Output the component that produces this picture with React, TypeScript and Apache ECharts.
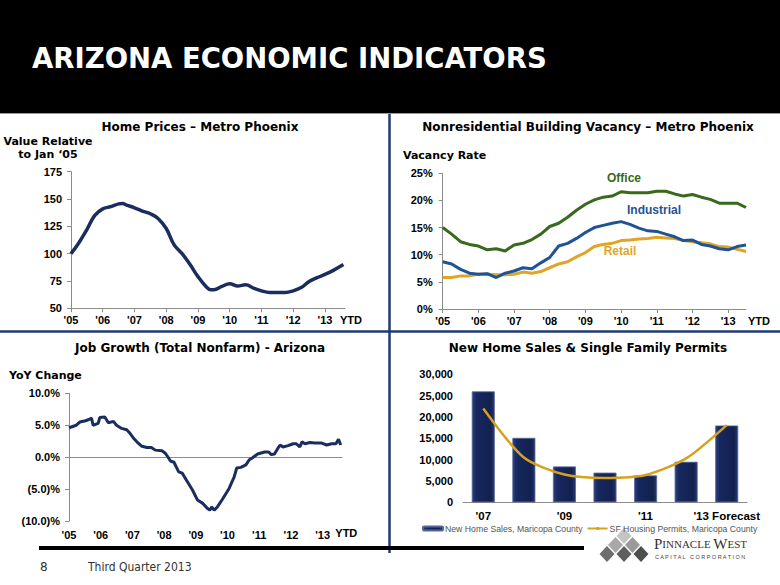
import React, { useEffect, useRef } from "react";
import * as echarts from "echarts";

// ---------- DATA ----------
// Home Prices – Metro Phoenix (index, Jan '05 = 100)
const hpYears = [2005, 2005.25, 2005.5, 2005.75, 2006, 2006.25, 2006.5, 2006.62, 2006.75, 2007, 2007.25, 2007.5, 2007.75, 2008, 2008.25, 2008.5, 2008.75, 2009, 2009.25, 2009.4, 2009.5, 2009.75, 2010, 2010.25, 2010.5, 2010.75, 2011, 2011.25, 2011.5, 2011.75, 2012, 2012.25, 2012.5, 2012.75, 2013, 2013.25, 2013.58];
const hpValues = [100, 110, 122, 135, 141, 143, 145.5, 146, 144.5, 142, 139, 136.5, 132, 123, 108, 100, 90, 79, 70, 67, 67, 70, 72.5, 70.5, 71.5, 68.5, 66, 64.5, 64.5, 64.5, 66, 69, 74.5, 78, 81, 84.5, 90];

// Nonresidential Building Vacancy (%), quarterly
const vacQuarters = [2005, 2005.25, 2005.5, 2005.75, 2006, 2006.25, 2006.5, 2006.75, 2007, 2007.25, 2007.5, 2007.75, 2008, 2008.25, 2008.5, 2008.75, 2009, 2009.25, 2009.5, 2009.75, 2010, 2010.25, 2010.5, 2010.75, 2011, 2011.25, 2011.5, 2011.75, 2012, 2012.25, 2012.5, 2012.75, 2013, 2013.25, 2013.5];
const officeVac = [15.0, 13.8, 12.4, 11.9, 11.6, 10.9, 11.1, 10.7, 11.8, 12.1, 12.8, 13.8, 15.2, 15.8, 16.9, 18.2, 19.3, 20.1, 20.6, 20.8, 21.6, 21.4, 21.4, 21.4, 21.7, 21.7, 21.2, 20.8, 21.1, 20.6, 20.2, 19.5, 19.5, 19.5, 18.7];
const industrialVac = [8.7, 8.3, 7.3, 6.6, 6.4, 6.5, 5.8, 6.6, 7.0, 7.6, 7.4, 8.5, 9.5, 11.6, 12.1, 13.0, 14.1, 15.0, 15.4, 15.8, 16.1, 15.6, 14.9, 14.4, 14.3, 13.8, 13.3, 12.6, 12.7, 11.9, 11.6, 11.1, 10.9, 11.5, 11.8];
const retailVac = [5.8, 5.8, 6.1, 6.1, 6.4, 6.4, 6.3, 6.3, 6.4, 6.8, 6.6, 6.9, 7.6, 8.3, 8.7, 9.6, 10.4, 11.5, 11.9, 12.1, 12.6, 12.7, 12.9, 13.0, 13.2, 13.1, 13.0, 12.6, 12.4, 12.2, 12.0, 11.5, 11.4, 11.0, 10.6];

// Job Growth (Total Nonfarm) - Arizona, YoY %
const jobYears = [2005, 2005.23, 2005.34, 2005.52, 2005.63, 2005.71, 2005.76, 2005.92, 2005.97, 2006.13, 2006.24, 2006.4, 2006.5, 2006.66, 2006.82, 2006.93, 2007.03, 2007.14, 2007.3, 2007.46, 2007.6, 2007.72, 2007.93, 2008.04, 2008.11, 2008.2, 2008.31, 2008.46, 2008.57, 2008.73, 2008.89, 2009.05, 2009.21, 2009.36, 2009.44, 2009.5, 2009.58, 2009.68, 2009.84, 2010.05, 2010.21, 2010.29, 2010.42, 2010.58, 2010.69, 2010.79, 2010.95, 2011.17, 2011.3, 2011.38, 2011.48, 2011.59, 2011.66, 2011.75, 2011.91, 2012.07, 2012.17, 2012.28, 2012.35, 2012.44, 2012.6, 2012.75, 2012.97, 2013.13, 2013.28, 2013.42, 2013.5, 2013.57];
const jobValues = [4.6, 5.0, 5.5, 5.7, 5.9, 6.1, 5.0, 5.3, 6.2, 6.3, 5.4, 5.6, 5.0, 4.5, 4.3, 3.7, 3.0, 2.4, 1.7, 1.5, 1.5, 1.1, 1.0, 0.6, 0.1, -0.6, -0.8, -2.3, -2.5, -3.8, -5.1, -6.7, -7.2, -8.0, -8.3, -7.8, -8.3, -7.8, -6.6, -4.9, -3.1, -1.7, -1.6, -1.2, -0.4, -0.1, 0.5, 0.8, 0.8, 0.4, 0.5, 1.4, 1.9, 1.6, 1.8, 2.1, 2.1, 1.6, 2.4, 2.1, 2.3, 2.2, 2.2, 1.9, 2.1, 2.1, 2.8, 1.9];

// New Home Sales & Single Family Permits (Maricopa County)
const salesCategories = ["'07", "'08", "'09", "'10", "'11", "'12", "'13 Forecast"];
const newHomeSales = [26000, 15100, 8400, 6950, 6300, 9500, 18000];
const sfPermits = [22000, 10500, 6500, 5700, 6400, 10300, 18100];

const SALES_NAME = "New Home Sales, Maricopa County";
const PERMITS_NAME = "SF Housing Permits, Maricopa County";

// ---------- HELPERS ----------
const yearFmt = (v: number) => (Number.isInteger(v) ? "'" + String(v).slice(2) : "");
const pctFmt = (v: number) => (v < 0 ? "(" + Math.abs(v).toFixed(1) + ")%" : v.toFixed(1) + "%");
const pairs = (xs: number[], ys: number[]) => xs.map((x, i) => [x, ys[i]]);

const AX = "#8c8c8c";
const labelStyle = { color: "#000", fontWeight: "bold" as const, fontSize: 11, fontFamily: "Liberation Sans" };
const ytdName = (gap: number) => ({
  name: "YTD",
  nameLocation: "end" as const,
  nameGap: gap,
  nameTextStyle: { ...labelStyle, align: "left", verticalAlign: "top", padding: [6, 0, 0, 0] },
});

const titleFont = 'bold 12px "DejaVu Sans"';
const axTitleFont = 'bold 11px "DejaVu Sans"';

function diamond(cx: number, cy: number, w: number, h: number, fill: string) {
  return {
    type: "polygon",
    shape: { points: [[cx, cy - h], [cx + w, cy], [cx, cy + h], [cx - w, cy]] },
    style: { fill },
    silent: true,
  };
}

export default function App() {
  const ref = useRef<HTMLDivElement>(null);

  useEffect(() => {
    document.body.style.margin = "0";
    if (!ref.current) return;
    const chart = echarts.init(ref.current, null, { renderer: "svg" });

    const lineX = (max: number, extra: any = {}) => ({
      type: "value",
      min: 2005,
      max,
      interval: 1,
      axisLine: { show: true, onZero: false, lineStyle: { color: AX, width: 1 } },
      axisTick: { show: true, length: 4, lineStyle: { color: AX } },
      axisLabel: { ...labelStyle, formatter: yearFmt, margin: 6, showMaxLabel: false },
      splitLine: { show: false },
      ...extra,
    });
    const yBase = {
      type: "value",
      axisLine: { show: true, lineStyle: { color: AX, width: 1 } },
      axisTick: { show: true, length: 4, lineStyle: { color: AX } },
      splitLine: { show: false },
    };

    const option: any = {
      animation: false,
      backgroundColor: "#ffffff",
      textStyle: { fontFamily: "Liberation Sans" },
      grid: [
        { left: 71, top: 171.7, width: 274, height: 136.6 },
        { left: 442.7, top: 173.3, width: 303.3, height: 135.7 },
        { left: 69, top: 393.3, width: 273.3, height: 127.7 },
        { left: 463, top: 374.3, width: 284, height: 128 },
      ],
      xAxis: [
        lineX(2013.63, { gridIndex: 0, ...ytdName(-5) }),
        lineX(2013.5, { gridIndex: 1, ...ytdName(2) }),
        lineX(2013.62, {
          gridIndex: 2,
          axisLine: { show: false, onZero: false },
          axisTick: { show: false },
          axisLabel: { ...labelStyle, formatter: yearFmt, margin: 8 },
          ...ytdName(-7),
        }),
        {
          type: "category",
          gridIndex: 3,
          data: salesCategories,
          axisLine: { show: true, lineStyle: { color: AX, width: 1 } },
          axisTick: { show: false },
          axisLabel: { ...labelStyle, fontSize: 11.5, interval: 1, margin: 8 },
        },
      ],
      yAxis: [
        { ...yBase, gridIndex: 0, min: 50, max: 175, interval: 25, axisLabel: { ...labelStyle, margin: 9 } },
        { ...yBase, gridIndex: 1, min: 0, max: 25, interval: 5, axisLabel: { ...labelStyle, margin: 10, formatter: (v: number) => v + "%" } },
        { ...yBase, gridIndex: 2, min: -10, max: 10, interval: 5, axisLabel: { ...labelStyle, margin: 9, formatter: pctFmt } },
        {
          type: "value",
          gridIndex: 3,
          min: 0,
          max: 30000,
          interval: 5000,
          axisLine: { show: false },
          axisTick: { show: false },
          splitLine: { show: false },
          axisLabel: { ...labelStyle, margin: 10, formatter: (v: number) => v.toLocaleString("en-US") },
        },
      ],
      legend: {
        data: [SALES_NAME, PERMITS_NAME],
        orient: "horizontal",
        left: 422,
        top: 524,
        width: 358,
        itemWidth: 20,
        itemHeight: 4,
        itemGap: 4,
        padding: 0,
        textStyle: { fontSize: 8.7, color: "#555", fontFamily: "Liberation Sans", padding: [0, 0, 0, -3] },
      },
      series: [
        {
          name: "Home Prices",
          type: "line",
          xAxisIndex: 0,
          yAxisIndex: 0,
          data: pairs(hpYears, hpValues),
          smooth: 0.4,
          symbol: "none",
          lineStyle: { color: "#1b2d5e", width: 3.5 },
          itemStyle: { color: "#1b2d5e" },
        },
        {
          name: "Retail",
          type: "line",
          xAxisIndex: 1,
          yAxisIndex: 1,
          data: pairs(vacQuarters, retailVac),
          symbol: "none",
          lineStyle: { color: "#e0a526", width: 3 },
          itemStyle: { color: "#e0a526" },
        },
        {
          name: "Industrial",
          type: "line",
          xAxisIndex: 1,
          yAxisIndex: 1,
          data: pairs(vacQuarters, industrialVac),
          symbol: "none",
          lineStyle: { color: "#1f5394", width: 3 },
          itemStyle: { color: "#1f5394" },
        },
        {
          name: "Office",
          type: "line",
          xAxisIndex: 1,
          yAxisIndex: 1,
          data: pairs(vacQuarters, officeVac),
          symbol: "none",
          lineStyle: { color: "#38691c", width: 3 },
          itemStyle: { color: "#38691c" },
        },
        {
          name: "Job Growth",
          type: "line",
          xAxisIndex: 2,
          yAxisIndex: 2,
          data: pairs(jobYears, jobValues),
          symbol: "none",
          lineStyle: { color: "#1b2d5e", width: 3 },
          itemStyle: { color: "#1b2d5e" },
          markLine: {
            silent: true,
            symbol: ["none", "none"],
            label: { show: false },
            lineStyle: { color: AX, width: 1, type: "solid" },
            data: [{ yAxis: 0 }],
            z: 1,
          },
        },
        {
          name: SALES_NAME,
          type: "bar",
          xAxisIndex: 3,
          yAxisIndex: 3,
          data: newHomeSales,
          barWidth: 23,
          itemStyle: {
            color: new echarts.graphic.LinearGradient(0, 0, 1, 0, [
              { offset: 0, color: "#2b3f7a" },
              { offset: 0.18, color: "#172860" },
              { offset: 0.82, color: "#13214f" },
              { offset: 1, color: "#25376c" },
            ]),
            borderColor: "#56669a",
            borderWidth: 0.8,
          },
        },
        {
          name: PERMITS_NAME,
          type: "line",
          xAxisIndex: 3,
          yAxisIndex: 3,
          data: sfPermits,
          smooth: 0.25,
          symbol: "none",
          lineStyle: { color: "#d6a11f", width: 2.5 },
          itemStyle: { color: "#d6a11f" },
        },
      ],
      graphic: {
        elements: [
          { type: "rect", shape: { x: 0, y: 0, width: 780, height: 113 }, style: { fill: "#000" }, silent: true },
          { type: "line", shape: { x1: 0, y1: 113.5, x2: 780, y2: 113.5 }, style: { stroke: "#9a9a9a", lineWidth: 1 }, silent: true },
          {
            type: "text",
            x: 32,
            y: 58,
            style: { text: "ARIZONA ECONOMIC INDICATORS", fill: "#fff", font: 'bold 27.5px "DejaVu Sans"', verticalAlign: "middle" },
          },
          // dividers
          { type: "line", shape: { x1: 389.5, y1: 114, x2: 389.5, y2: 553 }, style: { stroke: "#1f3a70", lineWidth: 2.5 }, silent: true },
          { type: "line", shape: { x1: 0, y1: 331.5, x2: 780, y2: 331.5 }, style: { stroke: "#1f3a70", lineWidth: 2.5 }, silent: true },
          { type: "rect", shape: { x: 39, y: 546, width: 545, height: 4 }, style: { fill: "#000" }, silent: true },
          // panel titles
          { type: "text", x: 200, y: 127, style: { text: "Home Prices – Metro Phoenix", fill: "#000", font: titleFont, align: "center", verticalAlign: "middle" } },
          { type: "text", x: 588, y: 127, style: { text: "Nonresidential Building Vacancy – Metro Phoenix", fill: "#000", font: titleFont, align: "center", verticalAlign: "middle" } },
          { type: "text", x: 200, y: 348, style: { text: "Job Growth (Total Nonfarm) - Arizona", fill: "#000", font: titleFont, align: "center", verticalAlign: "middle" } },
          { type: "text", x: 588, y: 348, style: { text: "New Home Sales & Single Family Permits", fill: "#000", font: titleFont, align: "center", verticalAlign: "middle" } },
          // axis titles
          { type: "text", x: 48, y: 148, style: { text: "Value Relative\nto Jan ‘05", fill: "#000", font: axTitleFont, align: "center", verticalAlign: "middle", lineHeight: 13 } },
          { type: "text", x: 403, y: 155, style: { text: "Vacancy Rate", fill: "#000", font: axTitleFont, verticalAlign: "middle" } },
          { type: "text", x: 9, y: 375, style: { text: "YoY Change", fill: "#000", font: axTitleFont, verticalAlign: "middle" } },
          // series annotations
          { type: "text", x: 624, y: 178, style: { text: "Office", fill: "#38691c", font: 'bold 12px "Liberation Sans"', align: "center", verticalAlign: "middle" } },
          { type: "text", x: 654, y: 210, style: { text: "Industrial", fill: "#1f5394", font: 'bold 12px "Liberation Sans"', align: "center", verticalAlign: "middle" } },
          { type: "text", x: 620, y: 251, style: { text: "Retail", fill: "#e0a526", font: 'bold 12px "Liberation Sans"', align: "center", verticalAlign: "middle" } },
          // footer
          { type: "text", x: 40, y: 567, style: { text: "8", fill: "#333", font: '12px "DejaVu Sans"', verticalAlign: "middle" } },
          { type: "text", x: 88, y: 567, scaleX: 0.9, style: { text: "Third Quarter 2013", fill: "#333", font: '12px "DejaVu Sans"', verticalAlign: "middle" } },
          // logo
          diamond(624, 536, 7.5, 8, "#c4c4c4"),
          diamond(615.5, 545, 7.5, 8, "#a8a8a8"),
          diamond(632.5, 545, 7.5, 8, "#9a9a9a"),
          diamond(607, 554, 7.5, 8, "#6e6e6e"),
          diamond(624, 554, 7.5, 8, "#5e5e5e"),
          diamond(641, 554, 7.5, 8, "#4e4e4e"),
          {
            type: "text",
            x: 654,
            y: 544,
            style: {
              text: "{a|P}{b|INNACLE }{a|W}{b|EST}",
              verticalAlign: "middle",
              rich: {
                a: { font: '15px "Liberation Serif"', fill: "#333", lineHeight: 14 },
                b: { font: '11px "Liberation Serif"', fill: "#333", lineHeight: 14 },
              },
            },
          },
          {
            type: "text",
            x: 655,
            y: 557,
            style: { text: "C A P I T A L   C O R P O R A T I O N", fill: "#444", font: '5.5px "Liberation Sans"', verticalAlign: "middle" },
          },
        ],
      },
    };

    chart.setOption(option);
    return () => chart.dispose();
  }, []);

  return <div ref={ref} style={{ width: 780, height: 585 }} />;
}
